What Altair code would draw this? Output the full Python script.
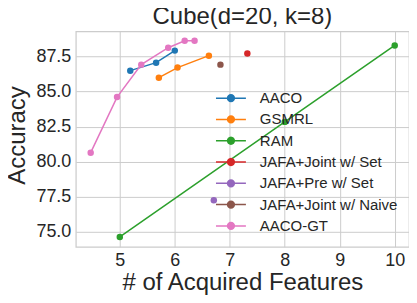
import math
import altair as alt
import pandas as pd

methods = ["AACO", "GSMRL", "RAM", "JAFA+Joint w/ Set", "JAFA+Pre w/ Set",
           "JAFA+Joint w/ Naive", "AACO-GT"]
colors = ["#1f77b4", "#ff7f0e", "#2ca02c", "#d62728", "#9467bd", "#8c564b", "#e377c2"]

aaco_x = [5.19, 5.66, 6.0]
aaco_y = [86.5, 87.07, 87.93]
gsmrl_x = [5.71, 6.05, 6.62]
gsmrl_y = [86.0, 86.72, 87.57]
ram_x = [5, 8, 10]
ram_y = [74.62, 82.84, 88.3]
jafa_joint_set_x = [7.32]
jafa_joint_set_y = [87.73]
jafa_pre_set_x = [6.71]
jafa_pre_set_y = [77.24]
jafa_joint_naive_x = [6.83]
jafa_joint_naive_y = [86.93]
aaco_gt_x = [4.47, 4.95, 5.39, 5.88, 6.18, 6.36]
aaco_gt_y = [80.64, 84.61, 86.93, 88.14, 88.63, 88.63]

series = [
    (aaco_x, aaco_y), (gsmrl_x, gsmrl_y), (ram_x, ram_y),
    (jafa_joint_set_x, jafa_joint_set_y), (jafa_pre_set_x, jafa_pre_set_y),
    (jafa_joint_naive_x, jafa_joint_naive_y), (aaco_gt_x, aaco_gt_y),
]
x_ticks = [5, 6, 7, 8, 9, 10]
y_ticks = [75.0, 77.5, 80.0, 82.5, 85.0, 87.5]

rows = []
for m, (xs, ys) in zip(methods, series):
    for i, (xv, yv) in enumerate(zip(xs, ys)):
        rows.append({"method": m, "x": xv, "y": yv, "i": i})
df = pd.DataFrame(rows)

FONT = "Liberation Sans"
TXT = "#262626"

scale = alt.Scale(domain=methods, range=colors)
xenc = alt.X("x:Q", scale=alt.Scale(domain=[4.2, 10.26], nice=False, zero=False),
             axis=alt.Axis(values=x_ticks, title="# of Acquired Features", format="d"))
yenc = alt.Y("y:Q", scale=alt.Scale(domain=[73.92, 89.31], nice=False, zero=False),
             axis=alt.Axis(values=y_ticks, title="Accuracy", format=".1f", titleY=104))

# legend glyph: short line plus a dot drawn as concentric stroked polygons
def ring(r, n=16):
    pts = [(r * math.cos(2 * math.pi * k / n), r * math.sin(2 * math.pi * k / n)) for k in range(n)]
    return "M" + "L".join(f"{px:.3f},{py:.3f}" for px, py in pts) + "Z"

sym_path = "M-1.5,0L1.5,0" + "".join(ring(r) for r in [0.34, 0.24, 0.14, 0.05])

legend = alt.Legend(
    title=None, orient="none", legendX=144.5, legendY=56,
    symbolType=sym_path, symbolSize=400, symbolStrokeWidth=1.5,
    labelFont=FONT, labelFontSize=15, labelColor=TXT, labelOffset=18,
    padding=0, rowPadding=2.35,
)

lines = alt.Chart(df).mark_line(strokeWidth=1.5).encode(
    x=xenc, y=yenc,
    stroke=alt.Stroke("method:N", scale=scale, legend=legend),
    order="i:Q", detail="method:N",
)
points = alt.Chart(df).mark_point(filled=True, size=42, opacity=1).encode(
    x=xenc, y=yenc,
    fill=alt.Fill("method:N", scale=scale, legend=None),
)

chart = alt.layer(lines, points).properties(
    width=334, height=216,
    title=alt.TitleParams("Cube(d=20, k=8)", font=FONT, fontSize=24, color=TXT,
                          fontWeight="normal", anchor="middle", offset=2),
    autosize=alt.AutoSizeParams(type="none"),
    padding={"left": 68, "top": 23, "right": 0, "bottom": 52},
).configure(background="white").configure_view(
    stroke="#cccccc", strokeWidth=1.25
).configure_axis(
    grid=True, gridColor="#cccccc", gridWidth=1, domain=False, ticks=False,
    labelFont=FONT, labelFontSize=18, labelColor=TXT, labelPadding=5,
    titleFont=FONT, titleFontSize=24, titleColor=TXT, titleFontWeight="normal",
).configure_axisX(titlePadding=1).configure_axisY(titlePadding=6)

chart.save("out.html", embed_options={"renderer": "svg", "actions": False})
